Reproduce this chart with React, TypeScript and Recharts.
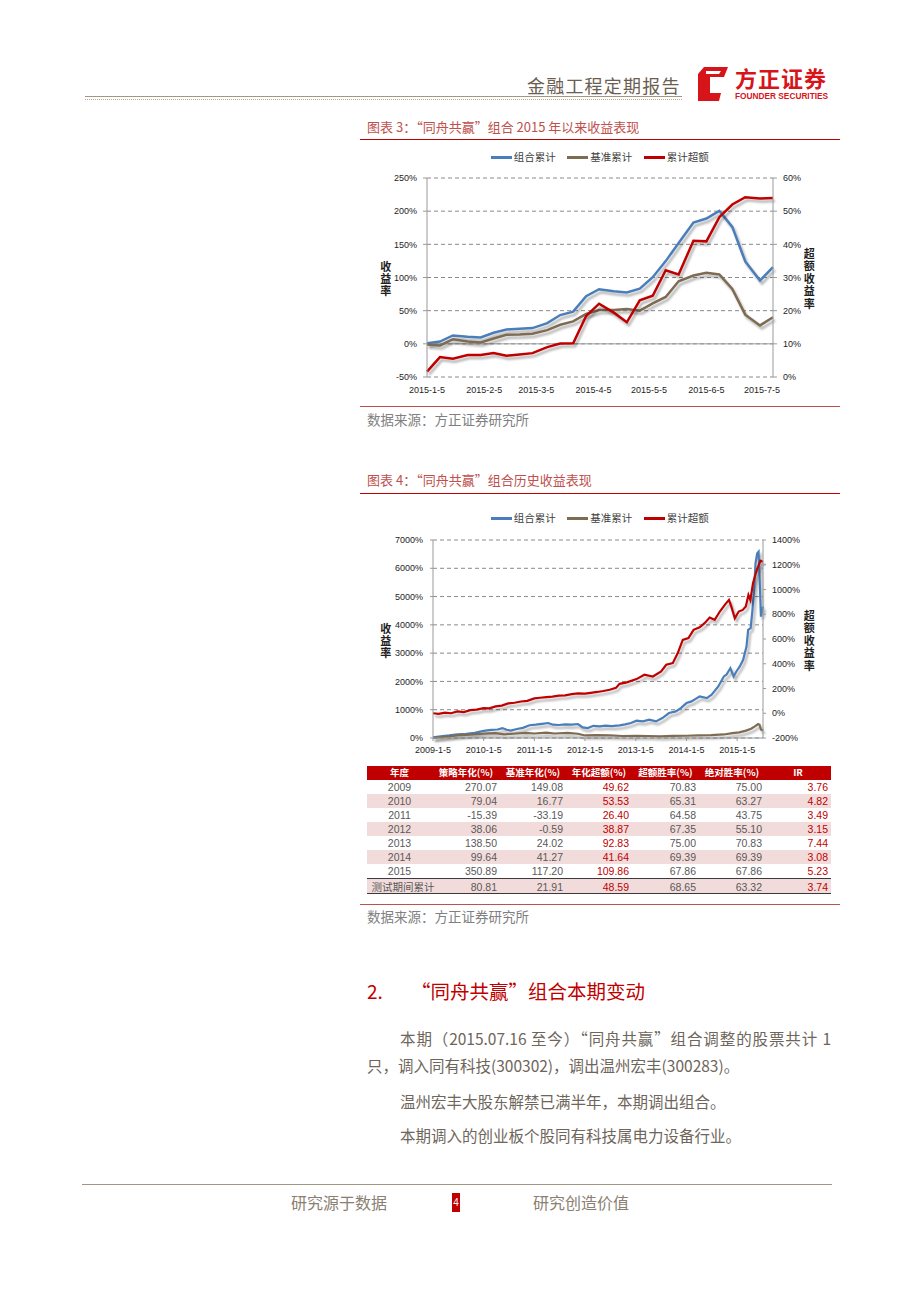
import React from 'react';
import { LineChart, Line, XAxis, YAxis, CartesianGrid, ReferenceLine } from 'recharts';

// ---- series meta
const seriesNames = ['组合累计', '基准累计', '累计超额'];
const seriesColors = ['#4a7ebb', '#7d6b52', '#c00000'];

// ---- 图表3: 2015 以来 (weekly)
const dates2015 = [
  '2015-1-5', '2015-1-12', '2015-1-19', '2015-1-27', '2015-2-3', '2015-2-10', '2015-2-17',
  '2015-2-24', '2015-3-3', '2015-3-11', '2015-3-18', '2015-3-25', '2015-4-1', '2015-4-8',
  '2015-4-16', '2015-4-23', '2015-4-30', '2015-5-7', '2015-5-14', '2015-5-21', '2015-5-29',
  '2015-6-5', '2015-6-12', '2015-6-19', '2015-6-26', '2015-7-4', '2015-7-11',
];
const port2015 = [1, 3.5, 12.6, 10.6, 9.6, 16.7, 21.7, 22.7, 23.7, 31.3, 43.4, 48.5, 71.7, 82.3, 79.3, 77.3, 83.3, 100.5, 124.7, 152, 182.8, 188.9, 200.5, 176.3, 124.2, 95.5, 115.7];
const bench2015 = [-1, -2.5, 7, 3.5, 2, 8, 13.6, 14.1, 15.2, 20.7, 28.8, 33.8, 45, 51, 51, 52.5, 50, 61, 70.7, 94.4, 103, 107, 104.5, 82.8, 44, 27.8, 40];
const excess2015 = [1.6, 6, 5.5, 6.6, 6.6, 7.2, 6.4, 6.8, 7.2, 9, 10.1, 10.2, 18.4, 22.1, 19.4, 16.5, 23.1, 24.5, 32.2, 30.9, 41.1, 40.9, 48.2, 52, 54.2, 53.8, 54];
const ticks2015 = ['2015-1-5', '2015-2-5', '2015-3-5', '2015-4-5', '2015-5-5', '2015-6-5', '2015-7-5'];
const leftTicks2015 = [-50, 0, 50, 100, 150, 200, 250];
const rightTicks2015 = [0, 10, 20, 30, 40, 50, 60];

// ---- 图表4: 历史
const portHistDates = [
  '2009-1-5', '2009-3-1', '2009-5-1', '2009-7-1', '2009-9-1', '2009-11-1', '2010-1-5', '2010-3-1',
  '2010-4-15', '2010-5-20', '2010-6-20', '2010-7-20', '2010-9-1', '2010-10-15', '2010-12-1',
  '2011-1-15', '2011-3-1', '2011-4-15', '2011-5-20', '2011-7-1', '2011-8-15', '2011-10-1',
  '2011-11-15', '2011-12-20', '2012-1-25', '2012-3-5', '2012-4-20', '2012-6-1', '2012-7-15',
  '2012-9-10', '2012-10-20', '2012-12-1', '2013-1-10', '2013-2-25', '2013-4-12', '2013-5-30',
  '2013-7-15', '2013-9-1', '2013-10-20', '2013-11-25', '2014-1-5', '2014-2-10', '2014-4-10',
  '2014-6-1', '2014-7-5', '2014-8-22', '2014-10-1', '2014-10-19', '2014-11-17', '2014-12-10',
  '2014-12-30', '2015-1-24', '2015-2-17', '2015-3-13', '2015-3-25', '2015-4-12', '2015-4-25',
  '2015-5-7', '2015-5-17', '2015-5-29', '2015-6-8', '2015-6-17', '2015-6-25', '2015-7-10',
];
const portHist = [
  20, 60, 90, 130, 150, 180, 250, 290, 300, 350, 290, 260, 320, 360, 450, 470, 500, 530, 470, 460,
  480, 470, 494, 376, 350, 430, 410, 440, 420, 447, 480, 529, 612, 588, 647, 588, 706, 882, 941,
  1058, 1235, 1294, 1470, 1411, 1529, 1823, 2176, 2235, 2470, 2176, 2352, 2529, 2764, 3234, 3822,
  3881, 4528, 5233, 6174, 6527, 6586, 5468, 4292, 4645,
];
const benchHistDates = [
  '2009-1-5', '2009-4-1', '2009-7-1', '2009-10-1', '2010-1-5', '2010-4-1', '2010-6-1', '2010-8-1',
  '2010-11-1', '2011-1-5', '2011-4-1', '2011-6-1', '2011-9-1', '2011-11-15', '2012-1-5', '2012-4-1',
  '2012-7-1', '2012-10-1', '2013-1-5', '2013-4-1', '2013-7-1', '2013-10-1', '2014-1-5', '2014-4-1',
  '2014-7-1', '2014-10-1', '2014-12-1', '2015-1-20', '2015-3-10', '2015-4-15', '2015-5-15',
  '2015-6-5', '2015-6-15', '2015-6-25', '2015-7-10',
];
const benchHist = [
  0, 40, 90, 120, 155, 170, 130, 150, 180, 160, 190, 160, 180, 150, 90, 100, 90, 70, 80, 70, 55,
  75, 80, 90, 100, 125, 170, 200, 260, 330, 420, 494, 470, 300, 270,
];
const excessHistDates = [
  '2009-1-5', '2009-2-15', '2009-4-1', '2009-5-15', '2009-7-1', '2009-8-15', '2009-10-1',
  '2009-11-15', '2010-1-5', '2010-2-15', '2010-4-1', '2010-5-15', '2010-7-1', '2010-8-15',
  '2010-10-1', '2010-11-15', '2011-1-5', '2011-2-15', '2011-4-1', '2011-5-15', '2011-7-1',
  '2011-8-15', '2011-10-1', '2011-11-15', '2012-1-5', '2012-2-15', '2012-4-1', '2012-5-15',
  '2012-7-1', '2012-8-15', '2012-9-10', '2012-11-1', '2013-1-10', '2013-3-8', '2013-5-8',
  '2013-7-6', '2013-8-12', '2013-9-28', '2013-11-3', '2013-12-9', '2014-1-19', '2014-2-25',
  '2014-4-10', '2014-5-15', '2014-6-21', '2014-7-27', '2014-9-2', '2014-10-8', '2014-11-7',
  '2014-11-24', '2014-12-19', '2015-1-16', '2015-2-14', '2015-3-8', '2015-3-27', '2015-4-10',
  '2015-4-29', '2015-5-19', '2015-6-5', '2015-6-22', '2015-7-10',
];
const excessHist = [
  0, -5, 5, 0, 15, 10, 25, 30, 42, 40, 55, 62, 80, 85, 95, 100, 120, 125, 130, 135, 142, 145, 155,
  160, 158, 165, 172, 180, 190, 205, 238, 250, 276, 311, 297, 338, 392, 405, 486, 593, 607, 674,
  695, 728, 773, 755, 822, 876, 916, 862, 768, 822, 835, 862, 956, 916, 1050, 1131, 1185, 1233, 1225,
];
const ticksHist = ['2009-1-5', '2010-1-5', '2011-1-5', '2012-1-5', '2013-1-5', '2014-1-5', '2015-1-5'];
const leftTicksHist = [0, 1000, 2000, 3000, 4000, 5000, 6000, 7000];
const rightTicksHist = [-200, 0, 200, 400, 600, 800, 1000, 1200, 1400];

// ---- 表格
const tableHeader = ['年度', '策略年化(%)', '基准年化(%)', '年化超额(%)', '超额胜率(%)', '绝对胜率(%)', 'IR'];
const tableYears = ['2009', '2010', '2011', '2012', '2013', '2014', '2015', '测试期间累计'];
const stratAnnual = [270.07, 79.04, -15.39, 38.06, 138.5, 99.64, 350.89, 80.81];
const benchAnnual = [149.08, 16.77, -33.19, -0.59, 24.02, 41.27, 117.2, 21.91];
const excessAnnual = [49.62, 53.53, 26.4, 38.87, 92.83, 41.64, 109.86, 48.59];
const excessWinRate = [70.83, 65.31, 64.58, 67.35, 75.0, 69.39, 67.86, 68.65];
const absWinRate = [75.0, 63.27, 43.75, 55.1, 70.83, 69.39, 67.86, 63.32];
const irValues = [3.76, 4.82, 3.49, 3.15, 7.44, 3.08, 5.23, 3.74];

const toDay = (s: string, base: string) => {
  const [y, m, d] = s.split('-').map(Number);
  const [by, bm, bd] = base.split('-').map(Number);
  return Math.round((Date.UTC(y, m - 1, d) - Date.UTC(by, bm - 1, bd)) / 86400000);
};

const base2015 = dates2015[0];
const rows2015 = dates2015.map((d, i) => ({
  day: toDay(d, base2015),
  port: port2015[i],
  bench: bench2015[i],
  excess: excess2015[i],
}));
const tickDays2015 = ticks2015.map((t) => toDay(t, base2015));

const baseHist = ticksHist[0];
const mkRows = (dates: string[], vals: number[]) => dates.map((d, i) => ({ day: toDay(d, baseHist), v: vals[i] }));
const portRows = mkRows(portHistDates, portHist);
const benchRows = mkRows(benchHistDates, benchHist);
const excessRows = mkRows(excessHistDates, excessHist);
const tickDaysHist = ticksHist.map((t) => toDay(t, baseHist));
const endHist = toDay(portHistDates[portHistDates.length - 1], baseHist);

const CJK = '"Noto Sans CJK SC", "Noto Sans", sans-serif';
const NUM = '"Liberation Sans", Arial, sans-serif';
const tickStyle = { fontSize: 9, fill: '#1e1e1e', fontFamily: NUM };
const pct = (v: number) => `${v}%`;

function ChartLegend({ top }: { top: number }) {
  const lineX = [490.7, 567.3, 643.7];
  return (
    <>
      {seriesNames.map((n, i) => (
        <React.Fragment key={n}>
          <div style={{ position: 'absolute', left: lineX[i], top: top - 1.5, width: 21, height: 3, background: seriesColors[i] }} />
          <div style={{ position: 'absolute', left: lineX[i] + 23, top: top - 7, fontSize: 10.5, lineHeight: '14px', color: '#404040', fontFamily: CJK }}>{n}</div>
        </React.Fragment>
      ))}
    </>
  );
}

// vertical axis title: one text run in vertical writing mode
function VText({ x, y, text, gap }: { x: number; y: number; text: string; gap: number }) {
  const fs = 11;
  return (
    <div style={{
      position: 'absolute', left: x - 7, top: y - fs / 2, width: 14, writingMode: 'vertical-rl',
      textOrientation: 'upright', fontSize: fs, lineHeight: '14px', letterSpacing: gap - fs,
      fontWeight: 700, color: '#1e1e1e', fontFamily: CJK, whiteSpace: 'nowrap',
    }}>
      {text}
    </div>
  );
}

function Chart2015() {
  return (
    <LineChart className="shadowed" width={480} height={265} data={rows2015} margin={{ top: 38, right: 7, left: 7, bottom: 0 }}>
      <CartesianGrid yAxisId="left" vertical={false} stroke="#8a8a8a" strokeDasharray="4 3" />
      <XAxis
        type="number"
        dataKey="day"
        domain={[0, rows2015[rows2015.length - 1].day]}
        ticks={tickDays2015}
        interval={0}
        tickFormatter={(v: number) => ticks2015[tickDays2015.indexOf(v)] ?? ''}
        axisLine={false}
        tickLine={false}
        tickSize={0}
        tickMargin={10}
        height={28}
        tick={tickStyle}
      />
      <YAxis yAxisId="left" domain={[-50, 250]} ticks={leftTicks2015} interval={0} width={60} tickFormatter={pct}
        stroke="#9a9a9a" tickSize={4} tickMargin={6} tick={tickStyle} />
      <YAxis yAxisId="right" orientation="right" domain={[0, 60]} ticks={rightTicks2015} interval={0} width={60}
        tickFormatter={pct} stroke="#9a9a9a" tickSize={4} tickMargin={6} tick={{ ...tickStyle, textAnchor: 'start' }} />
      <ReferenceLine yAxisId="left" y={0} stroke="#9a9a9a" strokeWidth={1} />
      <Line yAxisId="left" type="linear" dataKey="port" name={seriesNames[0]} stroke={seriesColors[0]} strokeWidth={2.5} dot={false} isAnimationActive={false} />
      <Line yAxisId="left" type="linear" dataKey="bench" name={seriesNames[1]} stroke={seriesColors[1]} strokeWidth={2.5} dot={false} isAnimationActive={false} />
      <Line yAxisId="right" type="linear" dataKey="excess" name={seriesNames[2]} stroke={seriesColors[2]} strokeWidth={2.5} dot={false} isAnimationActive={false} />
    </LineChart>
  );
}

function ChartHist() {
  return (
    <LineChart className="shadowed" width={480} height={265} margin={{ top: 45, right: 12, left: 12, bottom: 0 }}>
      <CartesianGrid yAxisId="left" vertical={false} stroke="#8a8a8a" strokeDasharray="4 3" />
      <XAxis
        type="number"
        dataKey="day"
        domain={[0, endHist]}
        ticks={tickDaysHist}
        interval={0}
        tickFormatter={(v: number) => ticksHist[tickDaysHist.indexOf(v)] ?? ''}
        stroke="#9a9a9a"
        tickSize={3}
        tickMargin={6}
        height={22}
        tick={tickStyle}
      />
      <YAxis yAxisId="left" domain={[0, 7000]} ticks={leftTicksHist} interval={0} width={61} tickFormatter={pct}
        stroke="#9a9a9a" tickSize={3} tickMargin={7} tick={tickStyle} />
      <YAxis yAxisId="right" orientation="right" domain={[-200, 1400]} ticks={rightTicksHist} interval={0} width={65}
        tickFormatter={pct} stroke="#9a9a9a" tickSize={3} tickMargin={6} tick={{ ...tickStyle, textAnchor: 'start' }} />
      <Line yAxisId="left" data={portRows} type="linear" dataKey="v" name={seriesNames[0]} stroke={seriesColors[0]} strokeWidth={2.2} dot={false} isAnimationActive={false} />
      <Line yAxisId="left" data={benchRows} type="linear" dataKey="v" name={seriesNames[1]} stroke={seriesColors[1]} strokeWidth={2.2} dot={false} isAnimationActive={false} />
      <Line yAxisId="right" data={excessRows} type="linear" dataKey="v" name={seriesNames[2]} stroke={seriesColors[2]} strokeWidth={2.2} dot={false} isAnimationActive={false} />
    </LineChart>
  );
}

function StatsTable() {
  const widths = [65, 68, 66, 66, 67, 66, 66];
  const lefts = widths.map((_, i) => 367 + widths.slice(0, i).reduce((a, b) => a + b, 0));
  const cols = [stratAnnual, benchAnnual, excessAnnual, excessWinRate, absWinRate, irValues];
  const redCols = [2, 5];
  const headTop = 766;
  const rowH = 14.1;
  return (
    <>
      <div style={{ position: 'absolute', left: 367, top: headTop, width: 464, height: 13.5, background: '#c00000' }} />
      {tableHeader.map((h, i) => (
        <div key={h} style={{ position: 'absolute', left: lefts[i], top: headTop, width: widths[i], height: 13.5, lineHeight: '13.5px', textAlign: 'center', color: '#fff', fontWeight: 700, fontSize: 9.5, fontFamily: CJK }}>{h}</div>
      ))}
      {tableYears.map((y, r) => {
        const last = r === tableYears.length - 1;
        const top = headTop + 13.5 + r * rowH;
        const shaded = r % 2 === 1 || last;
        return (
          <React.Fragment key={y}>
            <div style={{
              position: 'absolute', left: 367, top, width: 464, height: last ? 14.3 : rowH,
              background: shaded ? '#f2dcdb' : '#fff',
              borderTop: last ? '1.5px solid #3a3a3a' : undefined,
              borderBottom: last ? '1.5px solid #3a3a3a' : undefined,
            }} />
            <div style={{ position: 'absolute', left: last ? 371.5 : lefts[0], top: top + (last ? 1.5 : 0), width: last ? 80 : widths[0], height: rowH, lineHeight: `${rowH}px`, textAlign: last ? 'left' : 'center', color: '#595959', fontSize: 10.5, fontFamily: last ? CJK : NUM }}>{y}</div>
            {cols.map((c, ci) => (
              <div key={ci} style={{ position: 'absolute', left: lefts[ci + 1], top: top + (last ? 1.5 : 0), width: widths[ci + 1] - 3, height: rowH, lineHeight: `${rowH}px`, textAlign: 'right', color: redCols.includes(ci) ? '#c00000' : '#595959', fontSize: 10.5, fontFamily: '"Liberation Sans Narrow", "Liberation Sans", sans-serif' }}>
                {c[r].toFixed(2)}
              </div>
            ))}
          </React.Fragment>
        );
      })}
    </>
  );
}

const abs = (left: number, top: number, extra: React.CSSProperties = {}): React.CSSProperties => ({ position: 'absolute', left, top, whiteSpace: 'nowrap', ...extra });

export default function App() {
  const body: React.CSSProperties = { fontSize: 15.5, color: '#6e655b', fontFamily: CJK, lineHeight: '18px' };
  return (
    <div style={{ position: 'absolute', left: 0, top: 0, width: 920, height: 1302, background: '#fff', overflow: 'hidden', fontFamily: CJK }}>
      <style>{'.shadowed .recharts-line-curve { filter: drop-shadow(2px 3px 1.2px rgba(0,0,0,0.3)); }'}</style>
      {/* page header */}
      <div style={abs(527, 75, { fontSize: 18, lineHeight: '20px', letterSpacing: 1.2, color: '#6b5e50' })}>金融工程定期报告</div>
      <div style={abs(85, 96, { width: 597, borderTop: '1.5px solid #a39583' })} />
      <div style={abs(85, 99, { width: 597, borderTop: '1px dotted #b5a999' })} />
      <svg style={abs(697, 66)} width={32} height={36} viewBox="0 0 32 36">
        <path d="M7 1 L31 1 L27 11 L13 11 L13 27 L24 27 L22 35 L1 35 L1 8 Z" fill="#d7141a" />
        <path d="M9 5 L24 5 L22 8 L9 8 Z" fill="#fff" />
      </svg>
      <div style={abs(735, 64, { fontSize: 22, lineHeight: '26px', fontWeight: 700, color: '#d7141a', letterSpacing: 1 })}>方正证券</div>
      <div style={abs(735, 92, { fontSize: 8.3, lineHeight: '9px', fontWeight: 700, color: '#d7141a', fontFamily: NUM })}>FOUNDER SECURITIES</div>

      {/* 图表3 */}
      <div style={abs(367, 119, { fontSize: 13, lineHeight: '16px', color: '#c0504d' })}>图表 3：“同舟共赢”组合 2015 年以来收益表现</div>
      <div style={abs(360, 138.5, { width: 480, height: 1.5, background: '#c00000' })} />
      <ChartLegend top={157.3} />
      <div style={abs(360, 140)}><Chart2015 /></div>
      <VText x={385.7} y={266.7} text="收益率" gap={12.3} />
      <VText x={809.3} y={253.3} text="超额收益率" gap={12.5} />
      <div style={abs(360, 405.5, { width: 480, height: 1.5, background: '#c0504d' })} />
      <div style={abs(367, 410, { fontSize: 13.5, lineHeight: '18px', color: '#808080' })}>数据来源：方正证券研究所</div>

      {/* 图表4 */}
      <div style={abs(367, 472, { fontSize: 13, lineHeight: '16px', color: '#c0504d' })}>图表 4：“同舟共赢”组合历史收益表现</div>
      <div style={abs(360, 492.5, { width: 480, height: 1.5, background: '#c00000' })} />
      <ChartLegend top={518.3} />
      <div style={abs(360, 495)}><ChartHist /></div>
      <VText x={385.7} y={628.3} text="收益率" gap={12.2} />
      <VText x={809.3} y={615} text="超额收益率" gap={12.5} />
      <StatsTable />
      <div style={abs(360, 903.5, { width: 480, height: 1.5, background: '#c0504d' })} />
      <div style={abs(367, 907, { fontSize: 13.5, lineHeight: '18px', color: '#808080' })}>数据来源：方正证券研究所</div>

      {/* 正文 */}
      <div style={abs(367, 980, { fontSize: 19, lineHeight: '22px', color: '#c00000' })}>2.</div>
      <div style={abs(411, 980, { fontSize: 19.5, lineHeight: '22px', color: '#c00000' })}>“同舟共赢”组合本期变动</div>
      <div style={{ ...abs(400, 1029, body), width: 431, textAlign: 'justify', textAlignLast: 'justify' }}>本期（2015.07.16 至今）“同舟共赢”组合调整的股票共计 1</div>
      <div style={abs(367, 1056, body)}>只，调入同有科技(300302)，调出温州宏丰(300283)。</div>
      <div style={abs(400, 1092, body)}>温州宏丰大股东解禁已满半年，本期调出组合。</div>
      <div style={abs(400, 1126, body)}>本期调入的创业板个股同有科技属电力设备行业。</div>

      {/* footer */}
      <div style={abs(82, 1184, { width: 750, borderTop: '1.5px solid #a39583' })} />
      <div style={abs(291, 1192, { fontSize: 16, lineHeight: '20px', color: '#8a7f72' })}>研究源于数据</div>
      <div style={abs(452, 1193, { width: 8, height: 19, background: '#c00000', color: '#fff', fontSize: 10, lineHeight: '19px', textAlign: 'center', fontFamily: NUM })}>4</div>
      <div style={abs(533, 1192, { fontSize: 16, lineHeight: '20px', color: '#8a7f72' })}>研究创造价值</div>
    </div>
  );
}
